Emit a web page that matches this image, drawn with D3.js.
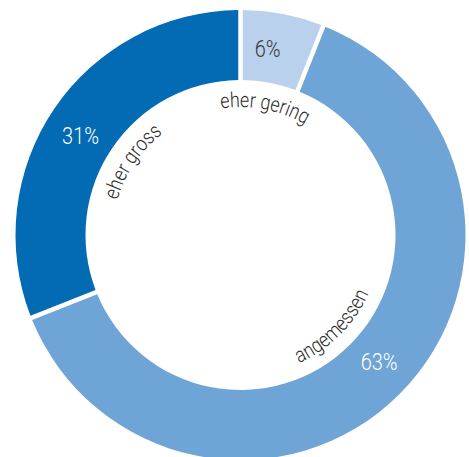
<!DOCTYPE html>
<html>
<head>
<meta charset="utf-8">
<script src="https://cdn.jsdelivr.net/npm/d3@7"></script>
<style>
  html, body { margin: 0; padding: 0; background: #ffffff; }
  svg { display: block; }
</style>
</head>
<body>
<svg id="chart" width="469" height="457"></svg>
<script>
// ---- data ----
const categories = ["eher gering", "angemessen", "eher gross"];
const values = [6, 63, 31];
const valueLabels = ["6%", "63%", "31%"];
const sliceColors = ["#b9d1ed", "#6fa5d6", "#036bb4"];
const valueLabelColors = ["#3a3a3a", "#ffffff", "#ffffff"];

// ---- layout ----
const W = 469, H = 457;
const cx = 240.5, cy = 235;
const outerR = 225, innerR = 155;
const gap = 4.5;
const fontFamily = "Roboto, 'Liberation Sans', sans-serif";
const condense = 0.85;

const svg = d3.select("#chart");
const defs = svg.append("defs");
const g = svg.append("g").attr("transform", `translate(${cx},${cy})`);

const data = categories.map((c, i) => ({ cat: c, value: values[i], label: valueLabels[i], color: sliceColors[i], tcolor: valueLabelColors[i] }));

const pie = d3.pie().sort(null).value(d => d.value).startAngle(0).endAngle(2 * Math.PI);
const arcs = pie(data);

const padR = outerR;
const arc = d3.arc().innerRadius(innerR).outerRadius(outerR)
  .padRadius(padR).padAngle(gap / padR);

g.selectAll("path.slice").data(arcs).join("path")
  .attr("class", "slice")
  .attr("d", arc)
  .attr("fill", d => d.data.color);

// value labels inside ring
const labelR = 188;
const labelShift = -2.5 * Math.PI / 180;
g.selectAll("g.val").data(arcs).join("g")
  .attr("class", "val")
  .attr("transform", d => {
    const a = (d.startAngle + d.endAngle) / 2 + labelShift;
    return `translate(${labelR * Math.sin(a)},${-labelR * Math.cos(a)}) scale(${condense},1)`;
  })
  .append("text")
  .attr("text-anchor", "middle")
  .attr("dominant-baseline", "central")
  .attr("font-family", fontFamily)
  .attr("font-weight", 300)
  .attr("font-size", 23.5)
  .attr("fill", d => d.data.tcolor)
  .text(d => d.data.label);

// curved category labels inside the hole
const span = 75 * Math.PI / 180;
arcs.forEach((d, i) => {
  const mid = (d.startAngle + d.endAngle) / 2;
  const flip = mid > Math.PI / 2 && mid < 3 * Math.PI / 2;
  const r = flip ? 141 : 128;
  const p = d3.path();
  if (!flip) {
    const a0 = mid - span, a1 = mid + span;
    p.moveTo(r * Math.sin(a0), -r * Math.cos(a0));
    p.arc(0, 0, r, a0 - Math.PI / 2, a1 - Math.PI / 2, false);
  } else {
    const a0 = mid + span, a1 = mid - span;
    p.moveTo(r * Math.sin(a0), -r * Math.cos(a0));
    p.arc(0, 0, r, a0 - Math.PI / 2, a1 - Math.PI / 2, true);
  }
  defs.append("path").attr("id", "lp" + i).attr("d", p.toString());
  const t = g.append("text")
    .attr("font-family", fontFamily)
    .attr("font-weight", 300)
    .attr("font-size", 21)
    .attr("fill", "#2b2b2b");
  const tp = t.append("textPath")
    .attr("href", "#lp" + i)
    .attr("startOffset", "50%")
    .attr("text-anchor", "middle")
    .text(d.data.cat);
  const len = tp.node().getComputedTextLength();
  tp.attr("textLength", len * condense).attr("lengthAdjust", "spacingAndGlyphs");
});
</script>
</body>
</html>
